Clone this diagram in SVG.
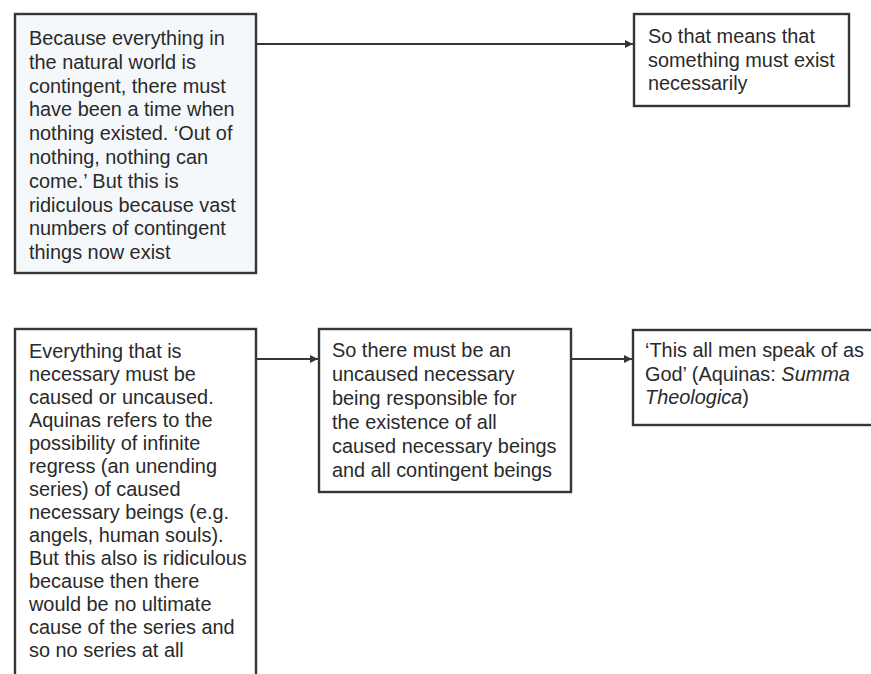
<svg xmlns="http://www.w3.org/2000/svg" width="871" height="674" viewBox="0 0 871 674">
<defs>
<style>
.box{fill:#ffffff;stroke:#363636;stroke-width:2.4}
.box1{fill:#f5f8fb}
.t{font-family:"Liberation Sans",Arial,sans-serif;font-size:19.9px;fill:#2a2a2a}
.conn{stroke:#363636;stroke-width:2.2;fill:none}
</style>
<marker id="ah" viewBox="0 0 10 10" refX="10" refY="5" markerWidth="12" markerHeight="8" markerUnits="userSpaceOnUse" orient="auto">
<path d="M0,0 L10,5 L0,10 z" fill="#363636"/>
</marker>
</defs>
<rect width="871" height="674" fill="#ffffff"/>
<g id="connectors">
<line class="conn" x1="256" y1="44" x2="633" y2="44" marker-end="url(#ah)"/>
<line class="conn" x1="256" y1="359" x2="318" y2="359" marker-end="url(#ah)"/>
<line class="conn" x1="571" y1="359" x2="632" y2="359" marker-end="url(#ah)"/>
</g>
<g id="n1">
<rect class="box box1" x="15" y="14" width="241" height="259"/>
<text class="t">
<tspan x="29" y="45">Because everything in</tspan>
<tspan x="29" y="68.8">the natural world is</tspan>
<tspan x="29" y="92.6">contingent, there must</tspan>
<tspan x="29" y="116.4">have been a time when</tspan>
<tspan x="29" y="140.2">nothing existed. ‘Out of</tspan>
<tspan x="29" y="164">nothing, nothing can</tspan>
<tspan x="29" y="187.8">come.’ But this is</tspan>
<tspan x="29" y="211.6">ridiculous because vast</tspan>
<tspan x="29" y="235.4">numbers of contingent</tspan>
<tspan x="29" y="259.2">things now exist</tspan>
</text>
</g>
<g id="n2">
<rect class="box" x="634" y="14" width="215" height="92"/>
<text class="t">
<tspan x="648" y="43">So that means that</tspan>
<tspan x="648" y="67">something must exist</tspan>
<tspan x="648" y="90">necessarily</tspan>
</text>
</g>
<g id="n3">
<rect class="box" x="15" y="329" width="241" height="360"/>
<text class="t">
<tspan x="29" y="358">Everything that is</tspan>
<tspan x="29" y="381">necessary must be</tspan>
<tspan x="29" y="404">caused or uncaused.</tspan>
<tspan x="29" y="427">Aquinas refers to the</tspan>
<tspan x="29" y="450">possibility of infinite</tspan>
<tspan x="29" y="473">regress (an unending</tspan>
<tspan x="29" y="496">series) of caused</tspan>
<tspan x="29" y="519">necessary beings (e.g.</tspan>
<tspan x="29" y="542">angels, human souls).</tspan>
<tspan x="29" y="565">But this also is ridiculous</tspan>
<tspan x="29" y="588">because then there</tspan>
<tspan x="29" y="611">would be no ultimate</tspan>
<tspan x="29" y="634">cause of the series and</tspan>
<tspan x="29" y="657">so no series at all</tspan>
</text>
</g>
<g id="n4">
<rect class="box" x="319" y="329" width="252" height="163"/>
<text class="t">
<tspan x="332" y="357">So there must be an</tspan>
<tspan x="332" y="381">uncaused necessary</tspan>
<tspan x="332" y="405">being responsible for</tspan>
<tspan x="332" y="429">the existence of all</tspan>
<tspan x="332" y="453">caused necessary beings</tspan>
<tspan x="332" y="477">and all contingent beings</tspan>
</text>
</g>
<g id="n5">
<rect class="box" x="633" y="330" width="260" height="95"/>
<text class="t">
<tspan x="645" y="357">‘This all men speak of as</tspan>
<tspan x="645" y="381">God’ (Aquinas: <tspan font-style="italic">Summa</tspan></tspan>
<tspan x="645" y="404" font-style="italic">Theologica</tspan><tspan>)</tspan>
</text>
</g>
</svg>
